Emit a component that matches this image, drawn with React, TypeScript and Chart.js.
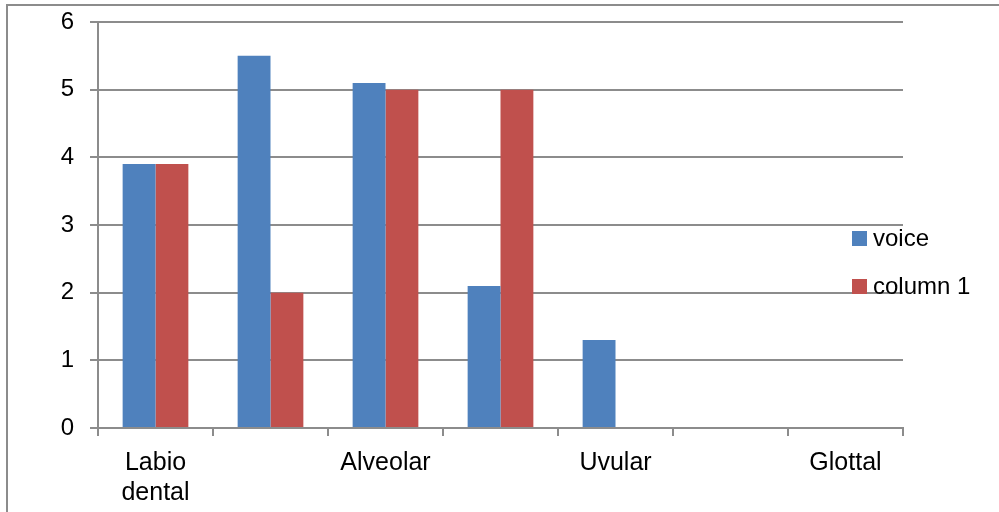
import React, { useEffect, useRef } from "react";
import { Chart, registerables } from "chart.js";

Chart.register(...registerables);

const categories: (string | string[])[] = [["Labio", "dental"], "", "Alveolar", "", "Uvular", "", "Glottal"];
const voiceValues = [3.9, 5.5, 5.1, 2.1, 1.3, 0, 0];
const column1Values = [3.9, 2, 5, 5, 0, 0, 0];
const seriesNames = ["voice", "column 1"];
const seriesColors = ["#4F81BD", "#C0504D"];
const yTicks = [0, 1, 2, 3, 4, 5, 6];

const FONT = "'Liberation Sans', Arial, sans-serif";
const AXIS_GRAY = "#8c8c8c";

const legendPlugin = {
  id: "sideLegend",
  afterDraw(chart: any) {
    const ctx = chart.ctx;
    const area = chart.chartArea;
    ctx.save();
    ctx.font = `24px ${FONT}`;
    ctx.textBaseline = "middle";
    ctx.textAlign = "left";
    chart.data.datasets.forEach((ds: any, i: number) => {
      const cy = area.top + 216 + i * 48;
      const sx = area.right - 51;
      ctx.fillStyle = ds.backgroundColor;
      ctx.fillRect(sx, cy - 7, 15, 15);
      ctx.fillStyle = "#000";
      ctx.fillText(ds.label, sx + 21, cy + 1);
    });
    ctx.restore();
  },
};

export default function App() {
  const canvasRef = useRef<HTMLCanvasElement | null>(null);

  useEffect(() => {
    if (!canvasRef.current) return;
    const chart = new Chart(canvasRef.current, {
      type: "bar",
      data: {
        labels: categories,
        datasets: [
          { label: seriesNames[0], data: voiceValues, backgroundColor: seriesColors[0] },
          { label: seriesNames[1], data: column1Values, backgroundColor: seriesColors[1] },
        ],
      },
      options: {
        animation: false,
        responsive: true,
        maintainAspectRatio: false,
        devicePixelRatio: 1,
        layout: { padding: { top: 22, right: 96, left: 0, bottom: 0 } },
        datasets: {
          bar: { categoryPercentage: 2 / 3.5, barPercentage: 1, borderWidth: 0 },
        },
        plugins: {
          legend: { display: false },
          tooltip: { enabled: false },
          title: { display: false },
        },
        scales: {
          x: {
            offset: true,
            grid: {
              offset: true,
              drawOnChartArea: false,
              drawTicks: true,
              tickLength: 8,
              color: AXIS_GRAY,
              lineWidth: 2,
            },
            border: { display: true, color: AXIS_GRAY, width: 2 },
            ticks: {
              autoSkip: false,
              maxRotation: 0,
              minRotation: 0,
              padding: 12,
              color: "#000",
              font: { family: FONT, size: 25, lineHeight: 1.2 },
            },
            afterFit(scale: any) {
              scale.height = 84;
              scale.paddingLeft = 0;
              scale.paddingRight = 0;
            },
          },
          y: {
            min: 0,
            max: 6,
            afterBuildTicks(scale: any) {
              scale.ticks = yTicks.map((v) => ({ value: v }));
            },
            grid: {
              color: AXIS_GRAY,
              lineWidth: 2,
              drawTicks: true,
              tickLength: 8,
            },
            border: { display: true, color: AXIS_GRAY, width: 2 },
            ticks: {
              padding: 16,
              color: "#000",
              font: { family: FONT, size: 24 },
            },
            afterFit(scale: any) {
              scale.width = 98;
              scale.paddingTop = 0;
              scale.paddingBottom = 0;
            },
          },
        },
      },
      plugins: [legendPlugin],
    });
    return () => chart.destroy();
  }, []);

  return (
    <div
      style={{
        position: "fixed",
        left: 0,
        top: 0,
        width: 999,
        height: 512,
        background: "#fff",
        overflow: "hidden",
      }}
    >
      <div
        style={{
          position: "absolute",
          left: 6,
          top: 4,
          width: 1100,
          height: 700,
          border: `2px solid ${AXIS_GRAY}`,
          boxSizing: "border-box",
        }}
      />
      <div style={{ position: "absolute", left: 0, top: 0, width: 999, height: 512 }}>
        <canvas ref={canvasRef} />
      </div>
    </div>
  );
}
